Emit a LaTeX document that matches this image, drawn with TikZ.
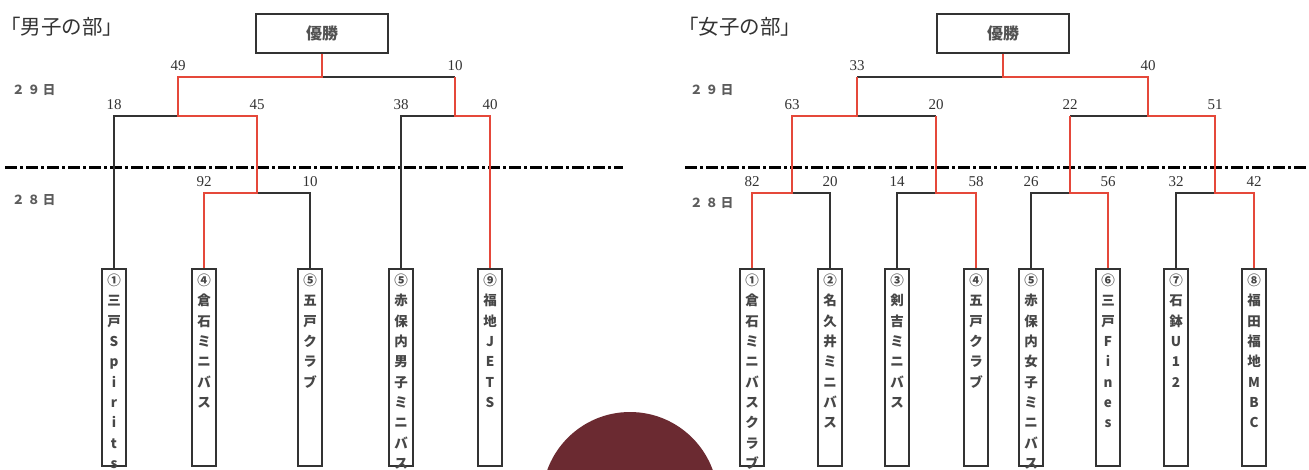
\documentclass[tikz,border=0pt]{standalone}
\usepackage{fontspec}
\setmainfont{Liberation Serif}
\newfontfamily\jp{Noto Sans CJK JP}
\usetikzlibrary{
  positioning
}
\definecolor{winred}{HTML}{E5483A}
\definecolor{inkgray}{HTML}{333333}
\definecolor{circred}{HTML}{6B2A31}

\begin{document}
\begin{tikzpicture}[
  x=1pt, y=-1pt,
  label distance=5pt,
  win/.style = {draw=winred, line width=2.6pt},
  lose/.style = {draw=inkgray, line width=2pt},
  score/.style = {font=\fontsize{15}{17}\selectfont, text=inkgray,
    inner sep=1pt},
  champ/.style = {draw=inkgray, line width=2pt, minimum width=132pt,
    minimum height=39pt, font=\jp\bfseries\fontsize{16}{18}\selectfont,
    text=inkgray!85},
  team/.style = {draw=inkgray, line width=2.2pt, minimum width=24pt,
    minimum height=197pt, inner sep=0pt},
  teamtext/.style = {font=\jp\bfseries\fontsize{13.5}{20.3}\selectfont,
    align=center, inner sep=0pt, text=inkgray!90}]
  \tikzstyle{title}=[anchor=west, inner sep=0pt, text=inkgray,
    font=\jp\fontsize{20.5}{22}\selectfont]
  \tikzstyle{day}=[anchor=west, inner sep=0pt, text=inkgray!80,
    font=\jp\bfseries\fontsize{12.5}{14}\selectfont]
  \tikzstyle{dashdot}=[draw=black, line width=3pt,
    dash pattern=on 12pt off 3pt on 3pt off 3pt]

  \useasboundingbox (0,0) rectangle (1309,469);
  \fill[circred] (630,500) circle (88pt);

  \node[title] (btitle) at (0,27) {「男子の部」};
  \node[day] (bd29) at (12,90) {２ ９ 日};
  \node[day] (bd28) at (12,200) {２ ８ 日};
  \draw[dashdot] (5,167) -- (623,167);

  \node[champ] (bw) at (322,33) {優勝};
  \coordinate (bf) at (322,77);
  \coordinate[label={[score]above:49}] (b49) at (178,77);
  \coordinate[label={[score]above:10}] (b10) at (455,77);
  \coordinate (bs1) at (178,116);
  \coordinate (bs2) at (455,116);
  \coordinate[label={[score]above:18}] (b18) at (114,116);
  \coordinate[label={[score]above:45}] (b45) at (257,116);
  \coordinate[label={[score]above:38}] (b38) at (401,116);
  \coordinate[label={[score]above:40}] (b40) at (490,116);
  \coordinate (bq) at (257,193);
  \coordinate[label={[score]above:92}] (b92) at (204,193);
  \coordinate[label={[score]above:10}] (b10b) at (310,193);

  \node[team] (bt1) at (114,367.5) {};
  \node[team] (bt2) at (204,367.5) {};
  \node[team] (bt3) at (310,367.5) {};
  \node[team] (bt4) at (401,367.5) {};
  \node[team] (bt5) at (490,367.5) {};
  \node[teamtext, below=6pt of bt1.north] {①\\三\\戸\\S\\p\\i\\r\\i\\t\\s};
  \node[teamtext, below=6pt of bt2.north] {④\\倉\\石\\ミ\\ニ\\バ\\ス};
  \node[teamtext, below=6pt of bt3.north] {⑤\\五\\戸\\ク\\ラ\\ブ};
  \node[teamtext, below=6pt of bt4.north] {⑤\\赤\\保\\内\\男\\子\\ミ\\ニ\\バ\\ス};
  \node[teamtext, below=6pt of bt5.north] {⑨\\福\\地\\J\\E\\T\\S};

  \draw[lose] (bf) -- (b10);
  \draw[lose] (bs1) -- (b18) -- (bt1.north);
  \draw[lose] (bq) -- (b10b) -- (bt3.north);
  \draw[lose] (bs2) -- (b38) -- (bt4.north);
  \draw[win] (bw.south) -- (bf) -- (b49) -- (bs1) -- (b45) -- (bq) -- (b92)
    -- (bt2.north);
  \draw[win] (b10) -- (bs2) -- (b40) -- (bt5.north);

  \node[title] (gtitle) at (678,27) {「女子の部」};
  \node[day] (gd29) at (690,90) {２ ９ 日};
  \node[day] (gd28) at (690,203) {２ ８ 日};
  \draw[dashdot] (685,167) -- (1309,167);

  \node[champ] (gw) at (1003,33) {優勝};
  \coordinate (gf) at (1003,77);
  \coordinate[label={[score]above:33}] (g33) at (857,77);
  \coordinate[label={[score]above:40}] (g40) at (1148,77);
  \coordinate (gs1) at (857,116);
  \coordinate (gs2) at (1148,116);
  \coordinate[label={[score]above:63}] (g63) at (792,116);
  \coordinate[label={[score]above:20}] (g20) at (936,116);
  \coordinate[label={[score]above:22}] (g22) at (1070,116);
  \coordinate[label={[score]above:51}] (g51) at (1215,116);
  \coordinate (gq1) at (792,193);
  \coordinate (gq2) at (936,193);
  \coordinate (gq3) at (1070,193);
  \coordinate (gq4) at (1215,193);
  \coordinate[label={[score]above:82}] (g82) at (752,193);
  \coordinate[label={[score]above:20}] (g20b) at (830,193);
  \coordinate[label={[score]above:14}] (g14) at (897,193);
  \coordinate[label={[score]above:58}] (g58) at (976,193);
  \coordinate[label={[score]above:26}] (g26) at (1031,193);
  \coordinate[label={[score]above:56}] (g56) at (1108,193);
  \coordinate[label={[score]above:32}] (g32) at (1176,193);
  \coordinate[label={[score]above:42}] (g42) at (1254,193);

  \node[team] (gt1) at (752,367.5) {};
  \node[team] (gt2) at (830,367.5) {};
  \node[team] (gt3) at (897,367.5) {};
  \node[team] (gt4) at (976,367.5) {};
  \node[team] (gt5) at (1031,367.5) {};
  \node[team] (gt6) at (1108,367.5) {};
  \node[team] (gt7) at (1176,367.5) {};
  \node[team] (gt8) at (1254,367.5) {};
  \node[teamtext, below=6pt of gt1.north] {①\\倉\\石\\ミ\\ニ\\バ\\ス\\ク\\ラ\\ブ};
  \node[teamtext, below=6pt of gt2.north] {②\\名\\久\\井\\ミ\\ニ\\バ\\ス};
  \node[teamtext, below=6pt of gt3.north] {③\\剣\\吉\\ミ\\ニ\\バ\\ス};
  \node[teamtext, below=6pt of gt4.north] {④\\五\\戸\\ク\\ラ\\ブ};
  \node[teamtext, below=6pt of gt5.north] {⑤\\赤\\保\\内\\女\\子\\ミ\\ニ\\バ\\ス};
  \node[teamtext, below=6pt of gt6.north] {⑥\\三\\戸\\F\\i\\n\\e\\s};
  \node[teamtext, below=6pt of gt7.north] {⑦\\石\\鉢\\U\\1\\2};
  \node[teamtext, below=6pt of gt8.north] {⑧\\福\\田\\福\\地\\M\\B\\C};

  \draw[lose] (gf) -- (g33);
  \draw[lose] (gs1) -- (g20);
  \draw[lose] (gs2) -- (g22);
  \draw[lose] (gq1) -- (g20b) -- (gt2.north);
  \draw[lose] (gq2) -- (g14) -- (gt3.north);
  \draw[lose] (gq3) -- (g26) -- (gt5.north);
  \draw[lose] (gq4) -- (g32) -- (gt7.north);
  \draw[win] (gw.south) -- (gf) -- (g40) -- (gs2) -- (g51) -- (gq4) -- (g42)
    -- (gt8.north);
  \draw[win] (g33) -- (gs1) -- (g63) -- (gq1) -- (g82) -- (gt1.north);
  \draw[win] (g20) -- (gq2) -- (g58) -- (gt4.north);
  \draw[win] (g22) -- (gq3) -- (g56) -- (gt6.north);
\end{tikzpicture}
\end{document}
